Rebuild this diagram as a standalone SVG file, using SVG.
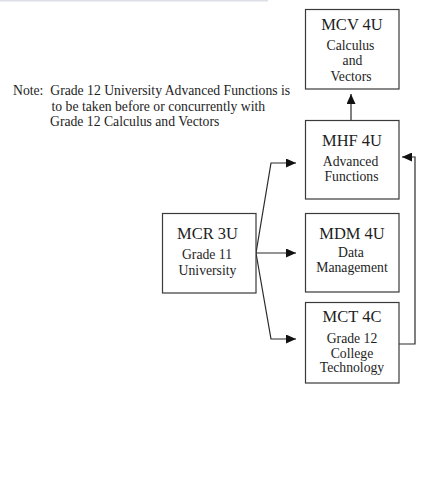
<svg xmlns="http://www.w3.org/2000/svg" width="427" height="480" viewBox="0 0 427 480">
<style>
.box{fill:#fff;stroke:#3a3a3a;stroke-width:1.2}
text{font-family:'Liberation Serif','Times New Roman','DejaVu Serif',serif;fill:#1e1e1e}
.t{text-anchor:middle}
.h{font-size:16.5px}
.s{font-size:13.7px}
.n{font-size:13.7px}
.c{fill:none;stroke:#2a2a2a;stroke-width:1.2}
</style>
<defs>
<marker id="ah" markerUnits="userSpaceOnUse" markerWidth="10" markerHeight="9" refX="10" refY="4.5" orient="auto">
<path d="M0,0 L10,4.5 L0,9 z" fill="#111"/>
</marker>
</defs>
<rect x="0" y="0" width="268" height="1.5" fill="#dcdfe8"/>
<g id="note" font-family="Liberation Serif, serif">
<text class="n" x="13" y="95" xml:space="preserve">Note:  Grade 12 University Advanced Functions is</text>
<text class="n" x="51.5" y="110.5">to be taken before or concurrently with</text>
<text class="n" x="50" y="126">Grade 12 Calculus and Vectors</text>
</g>
<g id="connectors">
<path class="c" d="M351,120 L351,94" marker-end="url(#ah)"/>
<path class="c" d="M256,253 L271,163 L296,163" marker-end="url(#ah)"/>
<path class="c" d="M256,253 L296,253" marker-end="url(#ah)"/>
<path class="c" d="M256,253 L271,339 L296,339" marker-end="url(#ah)"/>
<path class="c" d="M399,344 L415,344 L415,157 L402,157" marker-end="url(#ah)"/>
</g>
<g id="mcv">
<rect class="box" x="305.5" y="9.5" width="93.5" height="79.5"/>
<text class="t h" x="352" y="29.7">MCV 4U</text>
<text class="t s" x="350.5" y="49.7">Calculus</text>
<text class="t s" x="352.5" y="65">and</text>
<text class="t s" x="351" y="80.5">Vectors</text>
</g>
<g id="mhf">
<rect class="box" x="305.5" y="120.5" width="93.5" height="78.5"/>
<text class="t h" x="352" y="146">MHF 4U</text>
<text class="t s" x="350.5" y="166">Advanced</text>
<text class="t s" x="351.5" y="181">Functions</text>
</g>
<g id="mdm">
<rect class="box" x="305.5" y="213.5" width="93.5" height="78.5"/>
<text class="t h" x="352" y="239">MDM 4U</text>
<text class="t s" x="351" y="257">Data</text>
<text class="t s" x="352" y="272">Management</text>
</g>
<g id="mct">
<rect class="box" x="305.5" y="302.5" width="93.5" height="80.5"/>
<text class="t h" x="352" y="321.7">MCT 4C</text>
<text class="t s" x="352" y="342.5">Grade 12</text>
<text class="t s" x="352" y="357.5">College</text>
<text class="t s" x="352" y="372">Technology</text>
</g>
<g id="mcr">
<rect class="box" x="162.5" y="213.5" width="93.5" height="79.5"/>
<text class="t h" x="207.5" y="239">MCR 3U</text>
<text class="t s" x="207" y="259">Grade 11</text>
<text class="t s" x="207.5" y="274.5">University</text>
</g>
</svg>
